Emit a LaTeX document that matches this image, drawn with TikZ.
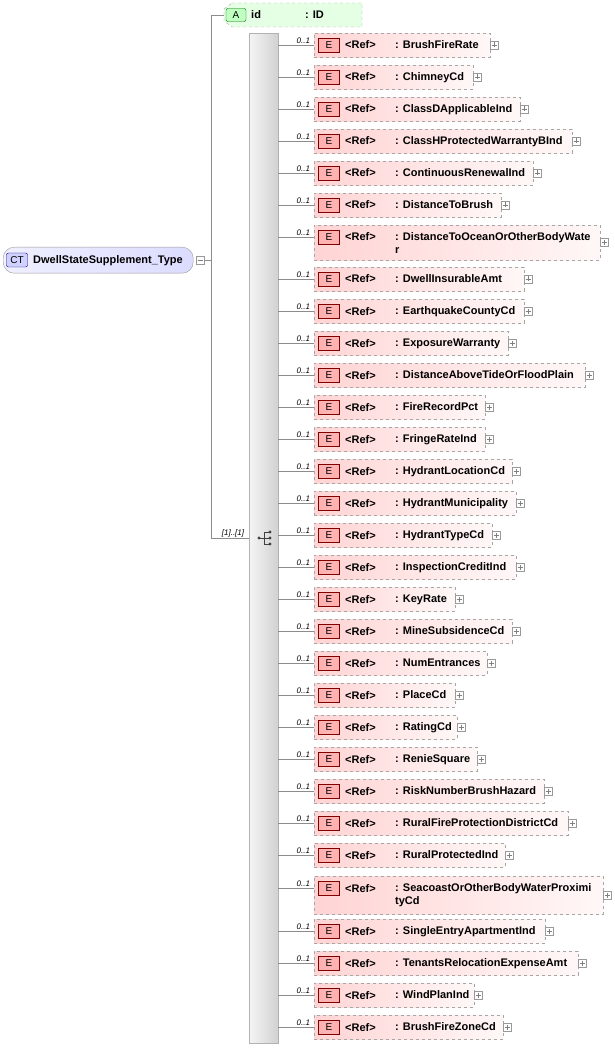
\documentclass[tikz,border=0pt]{standalone}
\usepackage{fontspec}
\setmainfont{Liberation Sans}
\begin{document}
\begin{tikzpicture}[x=1pt,y=-1pt,
  elem/.style={draw=black!35,dashed,left color=red!17,right color=red!3,anchor=north west,inner sep=0,minimum height=24},
  badge/.style={draw=red!50!black,fill=red!30,minimum width=21,minimum height=14,inner sep=0,font=\fontsize{10}{11}\selectfont},
  txt/.style={font=\fontsize{11}{13}\selectfont\bfseries,anchor=base west,inner sep=0,align=left},
  card/.style={font=\fontsize{8}{9}\selectfont\itshape,anchor=south,inner sep=1},
  pbox/.style={draw=black!40,fill=white,minimum size=8,inner sep=0},
  conn/.style={draw=black!45,line width=0.6}]
\useasboundingbox (0,0) rectangle (614,1048);
% compositor bar
\node[draw=black!30,left color=black!4,right color=black!18,minimum width=29,minimum height=1010,inner sep=0,anchor=north west] (bar) at (249,33) {};
% sequence icon
\coordinate (sq) at (265,538);
\fill[black!75] (259,538) circle (1.6);
\draw[black!75] (259,538)--(264,538) (264,532)--(264,544) (264,532)--(270,532) (264,538)--(270,538) (264,544)--(270,544);
\fill[black!75] (270,532) circle (1.6) (270,538) circle (1.6) (270,544) circle (1.6);
% CT
\node[draw=black!40,rounded corners=11,left color=blue!6,right color=blue!14,minimum width=190,minimum height=26,anchor=north west,inner sep=0] (ct) at (3,247) {};
\node[draw=blue!50!black,fill=blue!18,rounded corners=2,minimum width=21,minimum height=14,inner sep=0,font=\fontsize{10}{11}\selectfont] (ctb) at (17,260) {CT};
\node[txt] at (33,264) {DwellStateSupplement\_Type};
\node[pbox] (ctm) at (200,260) {};
\draw[black!50] (197.5,260)--(202.5,260);
\coordinate (j) at (211,260);
\draw[conn] (ctm.east)--(j);
\draw[conn] (211,15)--(211,538);
% attribute
\fill[green!10,draw=black!35,dashed] (232,3)--(362,3)--(362,27)--(232,27)--(224,21)--(224,9)--cycle;
\node[draw=green!40!black,fill=green!25,rounded corners=2,minimum width=20,minimum height=13,inner sep=0,font=\fontsize{10}{11}\selectfont] (ab) at (236,15) {A};
\node[txt] (att) at (251,19) {id};
\node[txt] at (305,19) {: ID};
\draw[conn] (211,15)--(224,15);
\draw[conn] (211,538)--(bar.west|-sq);
\node[card] at (233,538) {[1]..[1]};
\foreach \n/\r/\y/\h [count=\i] in {
BrushFireRate/490/33/24, ChimneyCd/473/65/24, ClassDApplicableInd/520/97/24,
ClassHProtectedWarrantyBInd/572/129/24, ContinuousRenewalInd/533/161/24, DistanceToBrush/501/193/24,
{DistanceToOceanOrOtherBodyWate\\r}/600/225/35, DwellInsurableAmt/524/267/24, EarthquakeCountyCd/524/299/24,
ExposureWarranty/508/331/24, DistanceAboveTideOrFloodPlain/585/363/24, FireRecordPct/485/395/24,
FringeRateInd/485/427/24, HydrantLocationCd/512/459/24, HydrantMunicipality/516/491/24,
HydrantTypeCd/492/523/24, InspectionCreditInd/516/555/24, KeyRate/455/587/24,
MineSubsidenceCd/512/619/24, NumEntrances/487/651/24, PlaceCd/455/683/24,
RatingCd/457/715/24, RenieSquare/477/747/24, RiskNumberBrushHazard/544/779/24,
RuralFireProtectionDistrictCd/568/811/24, RuralProtectedInd/505/843/24,
{SeacoastOrOtherBodyWaterProximi\\tyCd}/603/876/38, SingleEntryApartmentInd/545/919/24,
TenantsRelocationExpenseAmt/578/951/24, WindPlanInd/474/983/24, BrushFireZoneCd/503/1015/24}{
  \pgfmathsetmacro\w{\r-314}
  \node[elem,minimum width=\w,minimum height=\h] (e\i) at (314,\y) {};
  \node[badge] (b\i) at (329,\y+12) {E};
  \node[txt] at (345,\y+16) {<Ref>};
  \node[txt,anchor=north west] at (395,\y+7.5) {: \n};
  \node[pbox] (p\i) at (\r+4,\y+\h/2) {};
  \draw[black!50] (\r+1.5,\y+\h/2)--(\r+6.5,\y+\h/2) (\r+4,\y+\h/2-2.5)--(\r+4,\y+\h/2+2.5);
  \draw[conn] (bar.east|-b\i) -- (e\i.west|-b\i) node[card,pos=0.7] {0..1};
}
\end{tikzpicture}
\end{document}
